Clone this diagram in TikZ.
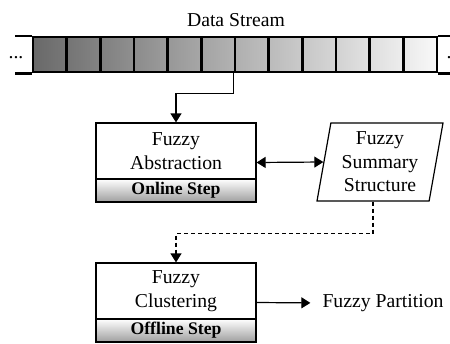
\documentclass[tikz,border=0pt]{standalone}
\usepackage{fontspec}
\setmainfont{Liberation Serif}
\usetikzlibrary{arrows.meta,shapes.geometric,fit}

\begin{document}
\begin{tikzpicture}[x=1pt,y=-1pt,
        font=\fontsize{19.7}{23.5}\selectfont,
        cell/.style={rectangle, draw=black, line width=2.5pt, minimum width=33.67pt, minimum height=35pt, inner sep=0pt},
        stage/.style={rectangle, minimum width=160pt, align=center, inner sep=0pt, outer sep=0pt},
        band/.style={rectangle, draw=black, line width=1.2pt, minimum width=160pt, minimum height=23pt, inner sep=0pt, outer sep=0pt, top color=white, bottom color=black!38, font=\fontsize{17.7}{20}\selectfont\bfseries},
        frame/.style={rectangle, draw=black, line width=1.2pt, inner sep=0pt},
        summary/.style={trapezium, draw=black, line width=1.2pt, trapezium left angle=77, trapezium right angle=103, trapezium stretches body, minimum width=126pt, minimum height=78pt, align=center, inner sep=0pt},
        flow/.style={line width=1.2pt, -{Triangle[length=9pt,width=11pt]}},
        ]
        \useasboundingbox (0,0) rectangle (450,343);

        % data stream
        \node (title) at (236,20) {Data Stream};
        \foreach \i in {0,...,11} {
            \pgfmathsetmacro{\shadeA}{59-4.6*\i}
            \pgfmathsetmacro{\shadeB}{53-4.6*\i}
            \node (c\i) at (33+33.67*\i+16.835,54.5) [cell, left color=black!\shadeA, right color=black!\shadeB] {};
        }
        \draw[line width=2.5pt] (c0.north west) -- ++(-17,0);
        \draw[line width=2.5pt] (c0.south west) -- ++(-17,0);
        \draw[line width=2.5pt] (c11.north east) -- ++(15,0);
        \draw[line width=2.5pt] (c11.south east) -- ++(15,0);
        \node (ldots) at (16,57.5) {...};
        \node (rdots) at (443,57.5) [anchor=west] {...};

        % online step
        \node (abs) at (176,151) [stage, minimum height=56pt] {Fuzzy\\Abstraction};
        \node (onl) at (176,190.5) [band] {Online Step};
        \node (absframe) [frame, fit=(abs)(onl)] {};

        \node (summ) at (380,162) [summary] {Fuzzy\\Summary\\Structure};

        % offline step
        \node (clu) at (176,291) [stage, minimum height=56pt] {Fuzzy\\Clustering};
        \node (off) at (176,330.5) [band] {Offline Step};
        \node (cluframe) [frame, fit=(clu)(off)] {};

        \node (part) at (383,303) [inner sep=0pt] {Fuzzy Partition};

        \draw[flow] (c6.south west) -- ++(0,20) -| (absframe.north);
        \draw[line width=1.2pt, {Triangle[length=9pt,width=11pt]}-{Triangle[length=9pt,width=11pt]}] (absframe.east) -- (summ.west);
        \draw[flow, dash pattern=on 4pt off 3pt] (summ.bottom side) -- ++(0,32) -| (cluframe.north);
        \draw[flow, shorten >=12pt] (cluframe.east) -- (part.west);

    \end{tikzpicture}
\end{document}
